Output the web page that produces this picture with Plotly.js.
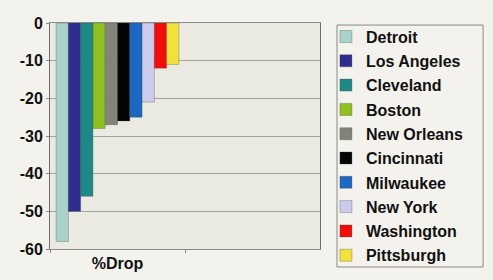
<!DOCTYPE html>
<html>
<head>
<meta charset="utf-8">
<script src="https://cdn.plot.ly/plotly-3.0.1.min.js"></script>
<style>html,body{margin:0;padding:0;background:#f3f2ec;}#chart{width:493px;height:280px;}</style>
</head>
<body>
<div id="chart"></div>
<script>
const category = ["%Drop"];
const cities = ["Detroit","Los Angeles","Cleveland","Boston","New Orleans","Cincinnati","Milwaukee","New York","Washington","Pittsburgh"];
const drops = [-58, -50, -46, -28, -27, -26, -25, -21, -12, -11];
const colors = ["#a9d3ca","#2d2d8f","#1d8a87","#8fc021","#83837c","#050505","#1c68c2","#cbcbee","#f20d0d","#f2e13a"];
const yTickVals = [0, -10, -20, -30, -40, -50, -60];
const yTickText = ["0", "-10", "-20", "-30", "-40", "-50", "-60"];

const traces = cities.map((c, i) => ({
  type: "bar",
  name: c,
  x: category,
  y: [drops[i]],
  legendgroup: "g" + i,
  marker: {color: colors[i], line: {color: "rgba(60,60,60,0.6)", width: 0.5}},
  hoverinfo: "name+y"
}));

const layout = {
  width: 493, height: 280,
  margin: {l: 50, r: 173, t: 23, b: 31},
  paper_bgcolor: "#f3f2ec",
  plot_bgcolor: "#ebeae2",
  font: {family: "Liberation Sans, Arial, sans-serif", size: 16, color: "#111"},
  barmode: "group",
  bargap: 0.09,
  bargroupgap: 0,
  showlegend: true,
  legend: {
    x: 1.022, xanchor: "left", y: 1.015, yanchor: "top",
    bgcolor: "rgba(0,0,0,0)", borderwidth: 0,
    font: {family: "Liberation Sans, Arial, sans-serif", size: 16, color: "#111", weight: "bold"},
    tracegroupgap: 0.5, traceorder: "grouped", maxheight: 280
  },
  shapes: [{
    type: "rect", xref: "paper", yref: "paper",
    x0: 1.063, x1: 1.604, y0: -0.0796, y1: 0.991,
    line: {color: "#8a8a86", width: 1}, fillcolor: "rgba(0,0,0,0)", layer: "below"
  }],
  xaxis: {
    type: "category", range: [-0.5, 1.5],
    showgrid: false, zeroline: false,
    showline: true, linecolor: "#8a8a86", linewidth: 1, mirror: true,
    ticks: "outside", tickson: "boundaries", ticklen: 3, tickcolor: "#8a8a86",
    tickfont: {family: "Liberation Sans, Arial, sans-serif", size: 16, color: "#111", weight: "bold"},
    fixedrange: true
  },
  yaxis: {
    range: [-60, 0],
    tickvals: yTickVals, ticktext: yTickText,
    showgrid: true, gridcolor: "#a4a39c", gridwidth: 1,
    zeroline: false,
    showline: true, linecolor: "#6e6e6a", linewidth: 1, mirror: true,
    ticks: "outside", ticklen: 3, tickcolor: "#8a8a86",
    tickfont: {family: "Liberation Sans, Arial, sans-serif", size: 16, color: "#111", weight: "bold"},
    fixedrange: true
  }
};

Plotly.newPlot("chart", traces, layout, {displayModeBar: false, staticPlot: true});
</script>
</body>
</html>
